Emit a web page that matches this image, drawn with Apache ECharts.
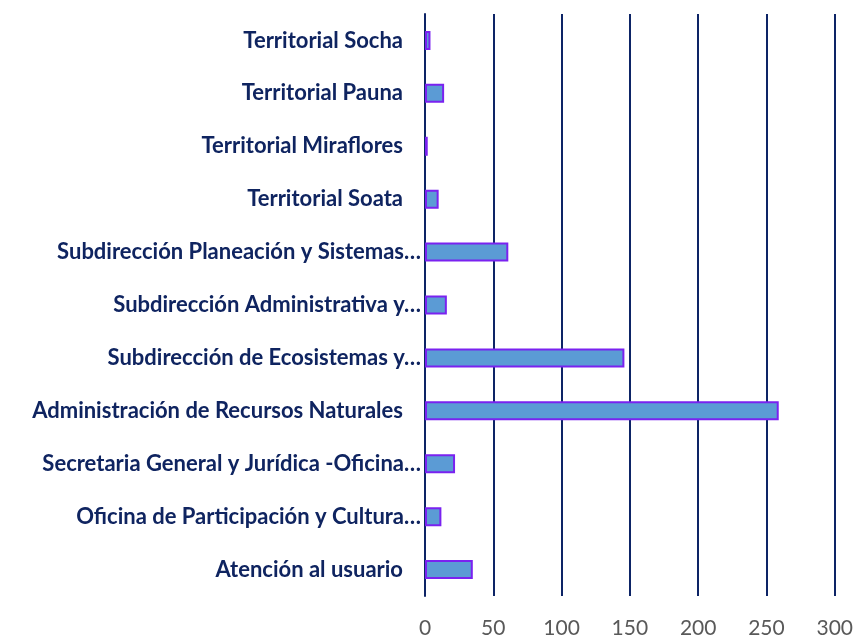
<!DOCTYPE html>
<html>
<head>
<meta charset="utf-8">
<script src="https://cdn.jsdelivr.net/npm/echarts@6/dist/echarts.min.js"></script>
<style>html,body{margin:0;padding:0;background:#fff;}#c{width:856px;height:639px;}</style>
</head>
<body>
<div id="c"></div>
<script>
const categories = [
  "Atención al usuario",
  "Oficina de Participación y Cultura…",
  "Secretaria General y Jurídica -Oficina…",
  "Administración de Recursos Naturales",
  "Subdirección de Ecosistemas y…",
  "Subdirección Administrativa y…",
  "Subdirección Planeación y Sistemas…",
  "Territorial Soata",
  "Territorial Miraflores",
  "Territorial Pauna",
  "Territorial Socha"
];
const values = [35, 12, 22, 259, 146, 16, 61, 10, 2, 14, 4];
const xTicks = [0, 50, 100, 150, 200, 250, 300];

const chart = echarts.init(document.getElementById('c'));
chart.setOption({
  animation: false,
  grid: { left: 425, right: 19, top: 14, bottom: 40, containLabel: false },
  xAxis: {
    type: 'value', min: xTicks[0], max: xTicks[xTicks.length - 1], interval: 50,
    axisLine: { show: false }, axisTick: { show: false },
    splitLine: { show: true, lineStyle: { color: '#0D2466', width: 2 } },
    axisLabel: { color: '#595959', fontSize: 21, fontFamily: 'Lato', margin: 22 }
  },
  yAxis: {
    type: 'category', data: categories,
    axisLine: { show: true, lineStyle: { color: '#0D2466', width: 2 } },
    axisTick: { show: false },
    axisLabel: {
      margin: 4,
      formatter: function (v) { return v.endsWith('…') ? '{a|' + v + '}' : '{b|' + v + '}'; },
      rich: {
        a: { color: '#0F2460', fontSize: 22, fontWeight: 'bold', fontFamily: 'Lato' },
        b: { color: '#0F2460', fontSize: 22, fontWeight: 'bold', fontFamily: 'Lato', padding: [0, 18, 0, 0] }
      }
    }
  },
  series: [{
    type: 'bar', data: values, barWidth: 19,
    itemStyle: { color: '#5B9BD5', borderColor: '#7A22F0', borderWidth: 2 }
  }]
});
</script>
</body>
</html>
